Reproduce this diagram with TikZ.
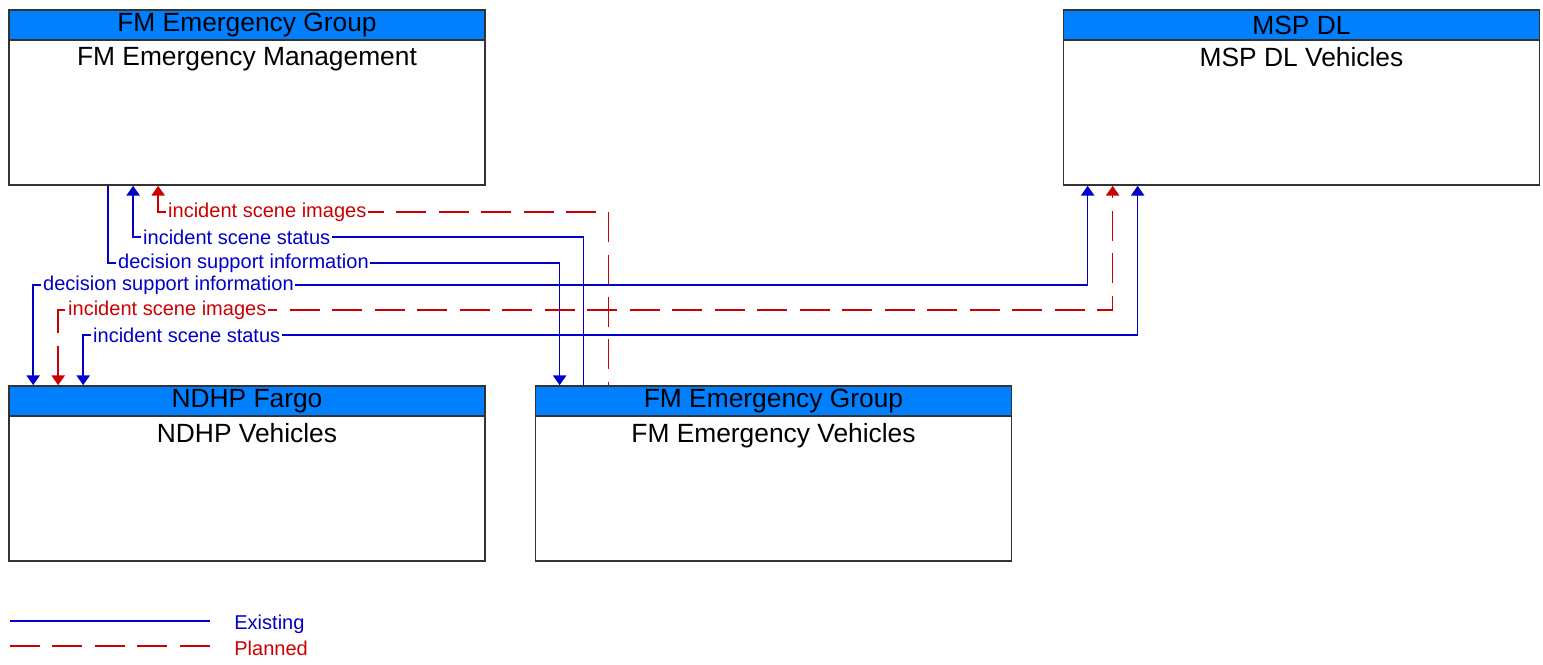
\documentclass[tikz,border=0pt]{standalone}
\usepackage{xcolor}
\usepackage{fontspec}
\setmainfont{Liberation Sans}
\usetikzlibrary{arrows.meta}
\definecolor{flowblue}{RGB}{0,0,200}
\definecolor{flowred}{RGB}{204,0,0}
\definecolor{headblue}{RGB}{0,128,255}
\begin{document}
\begin{tikzpicture}[x=0.02cm, y=-0.02cm, >={Triangle[width=7.5pt,length=5.5pt]},
        box/.style={draw=black!80, line width=1pt, minimum width=9.52cm, minimum height=3.5cm, inner sep=0pt},
        head/.style={draw=black!80, line width=1pt, fill=headblue, minimum width=9.52cm, minimum height=0.6cm, inner sep=0pt, font=\fontsize{15}{18}\selectfont},
        title/.style={anchor=north, inner sep=0pt, yshift=-0.12cm, font=\fontsize{15}{18}\selectfont},
        existing/.style={draw=flowblue, line width=0.9pt},
        planned/.style={draw=flowred, line width=0.9pt, dash pattern=on 0.6cm off 0.25cm},
        lbl/.style={anchor=west, fill=white, inner xsep=1pt, inner ysep=1pt, xshift=0.15cm, font=\fontsize{11.4}{13}\selectfont}]
                        \useasboundingbox (0, 0) rectangle (1543, 665);

                        \node (fmem) at (247, 97.5) [box] {};
                        \node (fmemh) at (fmem.north) [head, anchor=north] {FM Emergency Group};
                        \node (fmemt) at (fmemh.south) [title] {FM Emergency Management};

                        \node (msp) at (1301.5, 97.5) [box] {};
                        \node (msph) at (msp.north) [head, anchor=north] {MSP DL};
                        \node (mspt) at (msph.south) [title] {MSP DL Vehicles};

                        \node (ndhp) at (247, 473.5) [box] {};
                        \node (ndhph) at (ndhp.north) [head, anchor=north] {NDHP Fargo};
                        \node (ndhpt) at (ndhph.south) [title] {NDHP Vehicles};

                        \node (fmev) at (773.5, 473.5) [box] {};
                        \node (fmevh) at (fmev.north) [head, anchor=north] {FM Emergency Group};
                        \node (fmevt) at (fmevh.south) [title] {FM Emergency Vehicles};

                        \draw[existing, ->] ([xshift=2cm]fmem.south west) -- ++(0, 77) node[lbl, text=flowblue] {decision support information} -| ([xshift=0.5cm]fmev.north west);
                        \draw[existing, <-] ([xshift=2.5cm]fmem.south west) -- ++(0, 51) node[lbl, text=flowblue] {incident scene status} -| ([xshift=0.98cm]fmev.north west);
                        \draw[planned, <-] ([xshift=3cm]fmem.south west) -- ++(0, 26) node[lbl, text=flowred] {incident scene images} -| ([xshift=1.48cm]fmev.north west);

                        \draw[existing, <->] ([xshift=0.5cm]ndhp.north west) -- ++(0, -100) node[lbl, text=flowblue] {decision support information} -| ([xshift=0.5cm]msp.south west);
                        \draw[planned, <->] ([xshift=1cm]ndhp.north west) -- ++(0, -75) node[lbl, text=flowred] {incident scene images} -| ([xshift=1cm]msp.south west);
                        \draw[existing, <->] ([xshift=1.5cm]ndhp.north west) -- ++(0, -50) node[lbl, text=flowblue] {incident scene status} -| ([xshift=1.5cm]msp.south west);

                        \coordinate (ex0) at (10, 621);
                        \coordinate (ex1) at (210, 621);
                        \coordinate (pl0) at (10, 646);
                        \coordinate (pl1) at (210, 646);
                        \draw[existing] (ex0) -- (ex1);
                        \draw[planned] (pl0) -- (pl1);
                        \node (ext) at (234, 624) [anchor=west, inner sep=0pt, text=flowblue, font=\fontsize{11.4}{13}\selectfont] {Existing};
                        \node (plt) at (234, 648) [anchor=west, inner sep=0pt, text=flowred, font=\fontsize{11.4}{13}\selectfont] {Planned};
                    \end{tikzpicture}
\end{document}
